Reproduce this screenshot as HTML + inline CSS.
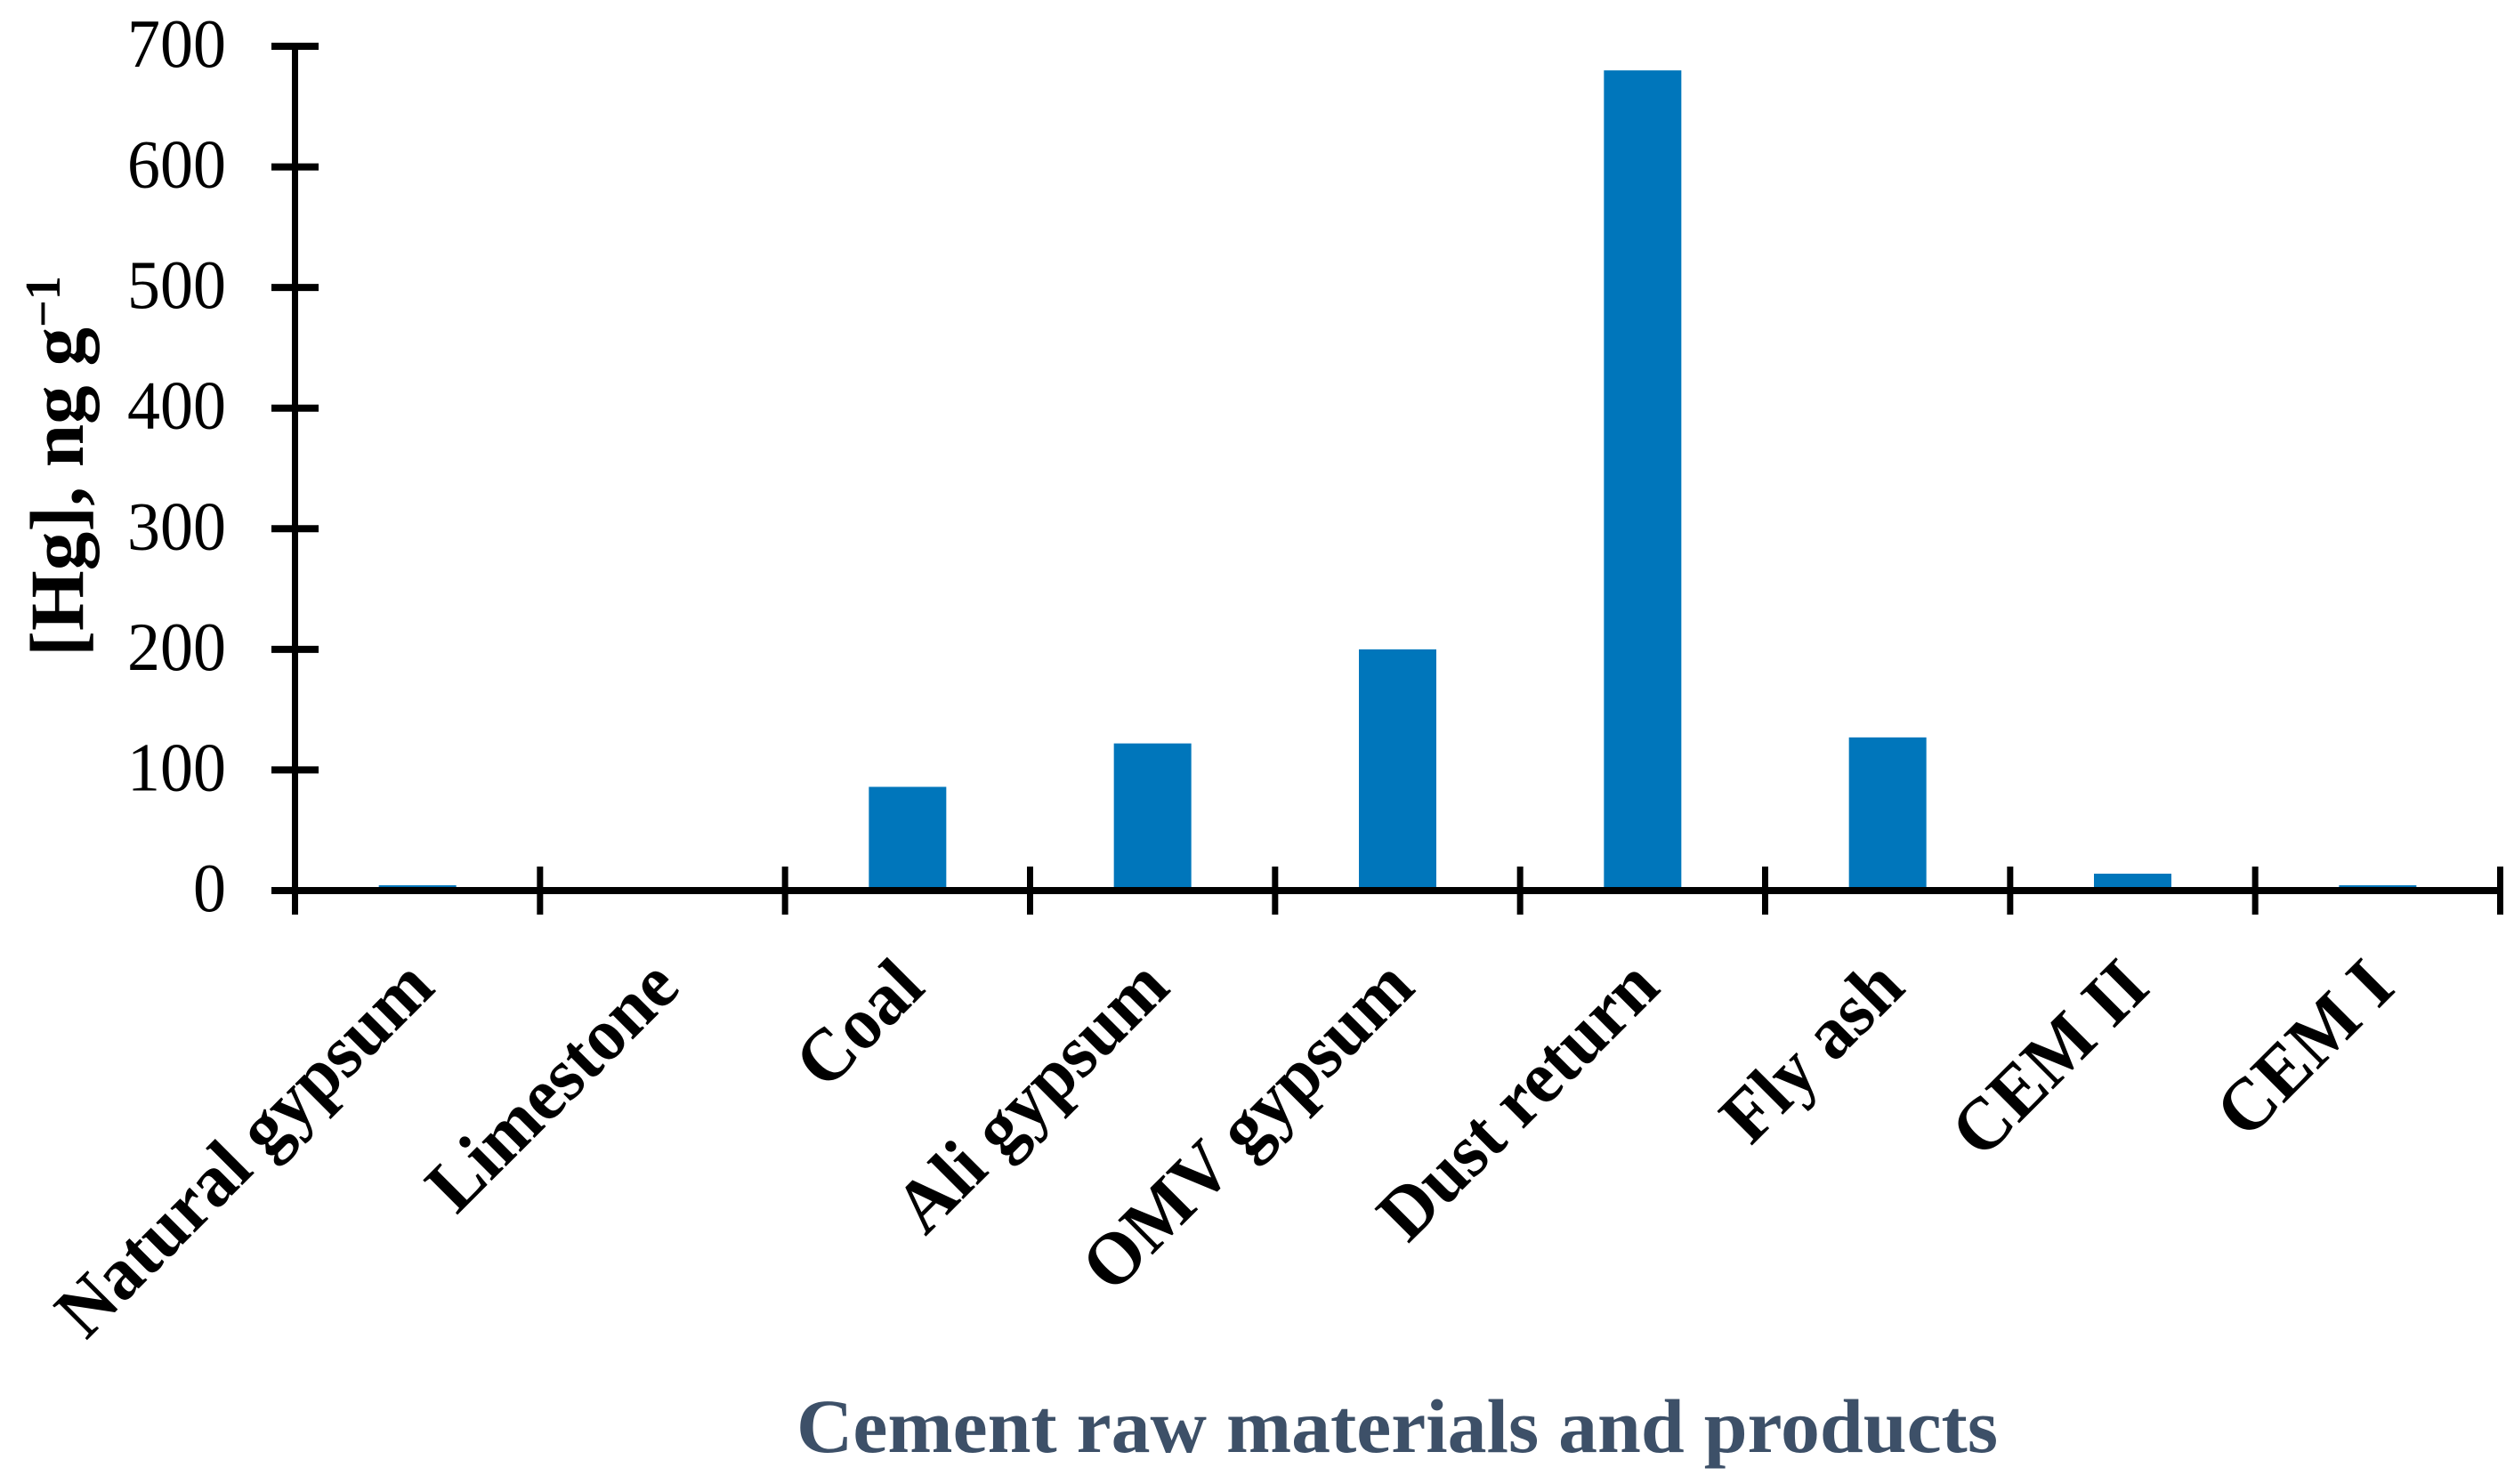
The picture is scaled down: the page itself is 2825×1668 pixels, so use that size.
<!DOCTYPE html>
<html lang="en">
<head>
<meta charset="utf-8">
<title>Mercury content in cement raw materials and products</title>
<style>
html,body{margin:0;padding:0;background:#fff;}
body{width:2825px;height:1668px;overflow:hidden;}
svg{display:block;}
text{font-family:"Liberation Serif",serif;}
</style>
</head>
<body>
<svg id="chart" xmlns="http://www.w3.org/2000/svg" width="2825" height="1668" viewBox="0 0 2825 1668">
  <rect x="0" y="0" width="2825" height="1668" fill="#ffffff"/>
  <g id="bars"></g>
  <g id="axes"></g>
  <g id="ylabels"></g>
  <g id="xlabels"></g>
  <g font-weight="700" fill="#000">
    <text transform="translate(93,738) rotate(-90)" font-size="86" textLength="370" lengthAdjust="spacingAndGlyphs">[Hg], ng g</text>
    <text transform="translate(67,368) rotate(-90)" font-size="56" textLength="58" lengthAdjust="spacingAndGlyphs">&#8722;1</text>
  </g>
  <text x="895" y="1632" font-size="86" font-weight="700" fill="#3d5068" textLength="1350" lengthAdjust="spacingAndGlyphs">Cement raw materials and products</text>
</svg>
<script>
const categories = ["Natural gypsum", "Limestone", "Coal", "Ali gypsum", "OMV gypsum", "Dust return", "Fly ash", "CEM II", "CEM I"];
const hgValues = [4.4, 0, 86, 122, 200, 680, 127, 14, 4.4];
const yTickLabels = [0, 100, 200, 300, 400, 500, 600, 700];

const NS = "http://www.w3.org/2000/svg";
const plotLeft = 331.5, plotRight = 2809.5, plotBottom = 1001, plotTop = 52, yMax = 700;
const binWidth = (plotRight - plotLeft) / categories.length;
const barWidth = 87;
const xPos = i => plotLeft + binWidth * i;
const yPos = v => plotBottom - (v / yMax) * (plotBottom - plotTop);

function mk(tag, parent, attrs) {
  const el = document.createElementNS(NS, tag);
  for (const k in attrs) el.setAttribute(k, attrs[k]);
  parent.appendChild(el);
  return el;
}

const barsG = document.getElementById("bars");
const axesG = document.getElementById("axes");
const yLabG = document.getElementById("ylabels");
const xLabG = document.getElementById("xlabels");

hgValues.forEach((v, i) => {
  const cx = xPos(i) + binWidth / 2;
  const bar = mk("rect", barsG, { x: cx - barWidth / 2, y: yPos(v), width: barWidth, height: plotBottom - yPos(v), fill: "#0076bb" });
  
  
});

const yAxis = mk("line", axesG, { x1: plotLeft, x2: plotLeft, y1: plotTop - 4, y2: 1028, stroke: "#000", "stroke-width": 7 });



const xAxis = mk("line", axesG, { x1: 305, x2: plotRight + 3.5, y1: plotBottom, y2: plotBottom, stroke: "#000", "stroke-width": 8 });



yTickLabels.forEach(t => {
  const y = yPos(t);
  const tick = mk("line", axesG, { x1: 305, x2: 358, y1: y, y2: y, stroke: "#000", "stroke-width": 8 });
  
  
  const s = String(t);
  const label = mk("text", yLabG, { x: 254, y: y + 23, "text-anchor": "end", "font-size": 77, fill: "#000", textLength: s.length * 37, lengthAdjust: "spacingAndGlyphs" });
  label.textContent = s;
  
  
});

for (let i = 0; i <= categories.length; i++) {
  const x = xPos(i);
  const tick = mk("line", axesG, { x1: x, x2: x, y1: 974, y2: 1028, stroke: "#000", "stroke-width": 7 });
  
  
}

categories.forEach((c, i) => {
  const cx = xPos(i) + binWidth / 2;
  const label = mk("text", xLabG, {
    transform: "translate(" + (cx + 22) + ",1113) rotate(-45) scale(0.96,1)",
    "text-anchor": "end", "font-size": 84, "font-weight": 700, fill: "#000"
  });
  label.textContent = c;
  
  
});
</script>
</body>
</html>
